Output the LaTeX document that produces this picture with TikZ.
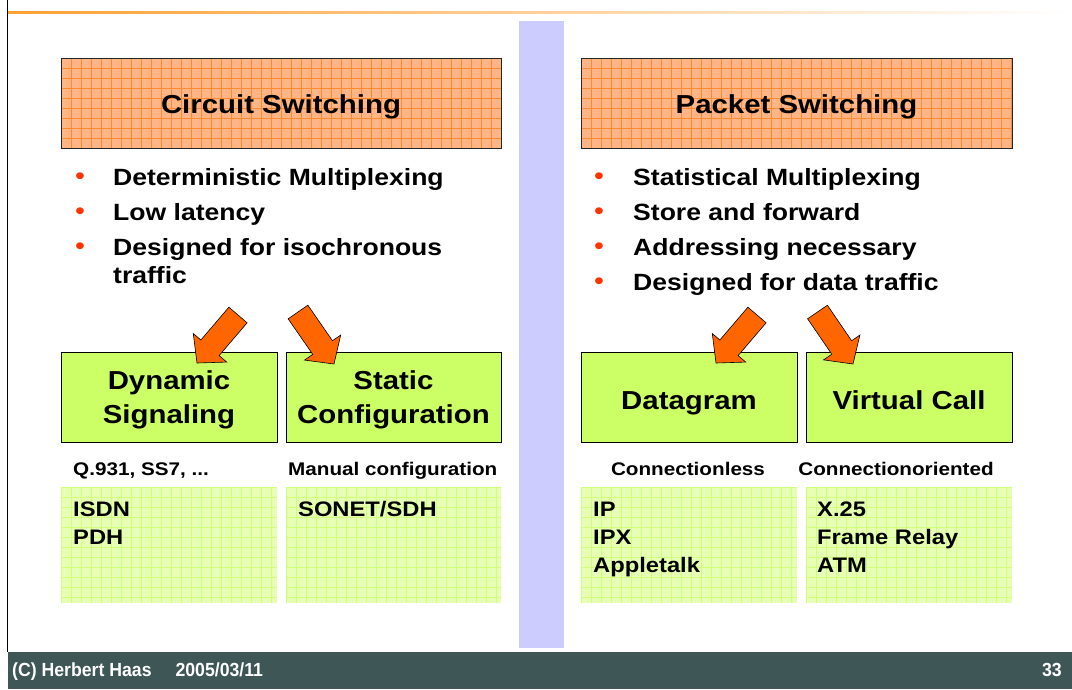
\documentclass[tikz,border=0pt]{standalone}
\usepackage{fontspec}
\setmainfont{Liberation Sans}[FakeStretch=1.13]
\newfontfamily\footfont{Liberation Sans}[FakeStretch=0.93]
\usetikzlibrary{calc}
\definecolor{orfill}{HTML}{FFB585}
\definecolor{orgrid}{HTML}{FF8A30}
\definecolor{gfill}{HTML}{CCFF66}
\definecolor{lgfill}{HTML}{E6FFB5}
\definecolor{lggrid}{HTML}{D0FF7A}
\definecolor{barblue}{HTML}{CCCCFF}
\definecolor{footbg}{HTML}{3F5656}
\definecolor{arrowor}{HTML}{FF6600}
\definecolor{bulletred}{HTML}{FF3300}
\definecolor{topline}{HTML}{FFA033}
\tikzset{
  gridpic/.style={path picture={
    \foreach \i in {0,10,...,460}{
      \draw[#1,line width=0.8pt] ([xshift=\i pt]path picture bounding box.north west) -- ([xshift=\i pt]path picture bounding box.south west);}
    \foreach \i in {0,10,...,130}{
      \draw[#1,line width=0.8pt] ([yshift=-\i pt]path picture bounding box.north west) -- ([yshift=-\i pt]path picture bounding box.north east);}
  }},
  titlebox/.style={draw=black!85, line width=1pt, fill=orfill, gridpic=orgrid, inner sep=0pt, anchor=north west},
  kindbox/.style={draw=black, line width=0.9pt, fill=gfill, inner sep=0pt, anchor=north west},
  listbox/.style={fill=lgfill, gridpic=lggrid, inner sep=0pt, anchor=north west},
  title/.style={font=\bfseries\fontsize{26}{30}\selectfont, inner sep=0pt, anchor=base},
  bul/.style={font=\bfseries\fontsize{23.5}{28}\selectfont, inner sep=0pt, anchor=base west, align=left},
  dot/.style={font=\fontsize{25}{25}\selectfont, text=bulletred, inner sep=0pt, anchor=base},
  kind/.style={font=\bfseries\fontsize{26}{34}\selectfont, inner sep=0pt, anchor=base, align=center},
  lab/.style={font=\bfseries\fontsize{18.3}{22}\selectfont, inner sep=0pt, anchor=base},
  item/.style={font=\bfseries\fontsize{21}{28}\selectfont, inner sep=0pt, anchor=base west, align=left},
  blockarr/.style={fill=arrowor, draw=black, line width=0.6pt, line join=miter},
  foot/.style={font=\footfont\bfseries\fontsize{19}{21}\selectfont, text=white, inner sep=0pt, anchor=base west}
}
% block arrow from tail centre #1 to tip #2
\newcommand\blockarrow[2]{%
  \path[blockarr] let \p1=(#1), \p2=(#2),
    \n1={atan2(\y2-\y1,\x2-\x1)}, \n2={veclen(\x2-\x1,\y2-\y1)} in
    ($(\p1)+(\n1+90:12pt)$)
    -- ($(\p1)+(\n1+90:12pt)+(\n1:{\n2*1pt-20pt})$)
    -- ($(\p1)+(\n1+90:22pt)+(\n1:{\n2*1pt-20pt})$)
    -- (\p2)
    -- ($(\p1)+(\n1-90:22pt)+(\n1:{\n2*1pt-20pt})$)
    -- ($(\p1)+(\n1-90:12pt)+(\n1:{\n2*1pt-20pt})$)
    -- ($(\p1)+(\n1-90:12pt)$) -- cycle;}
\begin{document}
\begin{tikzpicture}[x=1pt,y=-1pt]
\useasboundingbox (0,0) rectangle (1072,689);
% frame pieces
\shade[left color=topline, right color=white] (8,11) rectangle (1068,13.5);
\draw[line width=1.3pt] (7.5,0) -- (7.5,652);
\fill[barblue] (519,21) rectangle (564,648);
\fill[footbg] (8,652) rectangle (1072,689);
\node[foot] (ftl) at (12,676.5) {(C) Herbert Haas\hspace{24pt}2005/03/11};
\node[foot, anchor=base east] (ftr) at (1062,676.5) {33};

% ---------- left column ----------
\node[titlebox, minimum width=440pt, minimum height=90pt] (cs) at (61,58) {};
\node[title] (cst) at (281,113.5) {Circuit Switching};
\node[dot] (cb1) at (80,184) {•};
\node[dot] (cb2) at (80,219) {•};
\node[dot] (cb3) at (80,254) {•};
\node[bul] (cl1) at (113,185) {Deterministic Multiplexing};
\node[bul] (cl2) at (113,220) {Low latency};
\node[bul] (cl3) at (113,283) {Designed for isochronous\\traffic};

\node[kindbox, minimum width=216pt, minimum height=90pt] (dyn) at (61,352) {};
\node[kind] (dynt) at (169,423) {Dynamic\\Signaling};
\node[kindbox, minimum width=215pt, minimum height=90pt] (sta) at (286,352) {};
\node[kind] (stat) at (393.5,423) {Static\\Configuration};

\node[lab, anchor=base west] (q931) at (73,475) {Q.931, SS7, ...};
\node[lab, anchor=base west] (man) at (288,475) {Manual configuration};

\node[listbox, minimum width=216pt, minimum height=116pt] (l1) at (61,487) {};
\node[item] (l1t) at (73,544) {ISDN\\PDH};
\node[listbox, minimum width=215pt, minimum height=116pt] (l2) at (286,487) {};
\node[item] (l2t) at (298,516) {SONET/SDH};

% ---------- right column ----------
\node[titlebox, minimum width=431pt, minimum height=90pt] (ps) at (581,58) {};
\node[title] (pst) at (796.5,113.5) {Packet Switching};
\node[dot] (pb1) at (599,184) {•};
\node[dot] (pb2) at (599,219) {•};
\node[dot] (pb3) at (599,254) {•};
\node[dot] (pb4) at (599,289) {•};
\node[bul] (pl1) at (633,185) {Statistical Multiplexing};
\node[bul] (pl2) at (633,220) {Store and forward};
\node[bul] (pl3) at (633,255) {Addressing necessary};
\node[bul] (pl4) at (633,290) {Designed for data traffic};

\node[kindbox, minimum width=216pt, minimum height=90pt] (dg) at (581,352) {};
\node[kind] (dgt) at (689,409) {Datagram};
\node[kindbox, minimum width=206pt, minimum height=90pt] (vc) at (806,352) {};
\node[kind] (vct) at (909,409) {Virtual Call};

\node[lab] (cl) at (688,475) {Connectionless};
\node[lab] (co) at (896,475) {Connectionoriented};

\node[listbox, minimum width=216pt, minimum height=116pt] (l3) at (581,487) {};
\node[item] (l3t) at (593,572) {IP\\IPX\\Appletalk};
\node[listbox, minimum width=206pt, minimum height=116pt] (l4) at (806,487) {};
\node[item] (l4t) at (817,572) {X.25\\Frame Relay\\ATM};

% ---------- block arrows ----------
\coordinate (a1s) at (238,315); \coordinate (a1e) at (197,363);
\coordinate (a2s) at (298,312); \coordinate (a2e) at (334,364);
\coordinate (a3s) at (757,315); \coordinate (a3e) at (716,363);
\coordinate (a4s) at (817.5,312); \coordinate (a4e) at (853,364);
\blockarrow{a1s}{a1e}
\blockarrow{a2s}{a2e}
\blockarrow{a3s}{a3e}
\blockarrow{a4s}{a4e}
\end{tikzpicture}
\end{document}
